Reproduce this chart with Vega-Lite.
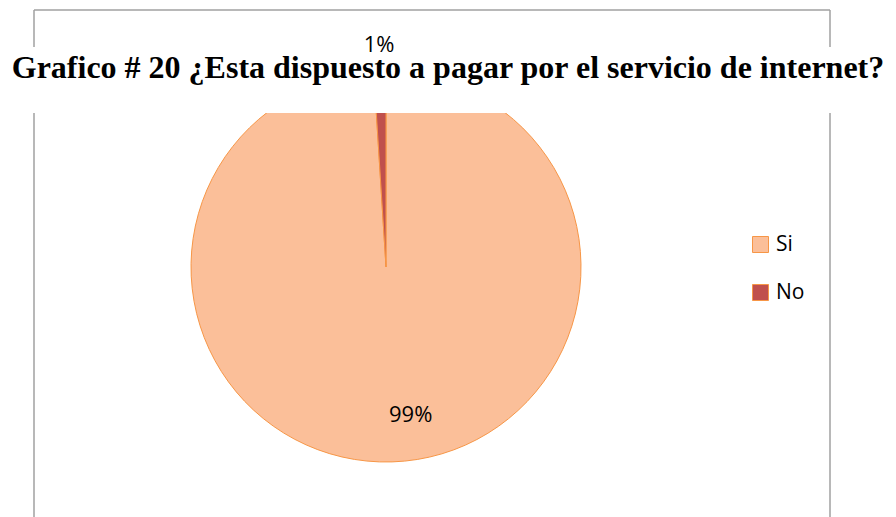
{
  "$schema": "https://vega.github.io/schema/vega-lite/v6.json",
  "autosize": {"type": "none"},
  "padding": {"left": 34, "top": 113, "right": 66, "bottom": 0},
  "width": 796,
  "height": 404,
  "background": "white",
  "config": {"view": {"stroke": null}},
  "title": {
    "text": "Grafico # 20 ¿Esta dispuesto a pagar por el servicio  de internet?",
    "font": "Liberation Serif",
    "fontSize": 32,
    "fontWeight": "bold",
    "color": "black",
    "anchor": "middle",
    "frame": "group",
    "dx": 16,
    "dy": 101,
    "offset": 0,
    "baseline": "alphabetic"
  },
  "data": {"values": [
    {"answer": "Si", "value": 99, "label": "99%"},
    {"answer": "No", "value": 1, "label": "1%"}
  ]},
  "layer": [
    {
      "data": {"values": [{}]},
      "mark": {"type": "rule", "color": "#A0A0A0", "strokeWidth": 1.5},
      "encoding": {"x": {"value": 0}, "y": {"value": 0}, "y2": {"value": "height"}}
    },
    {
      "data": {"values": [{}]},
      "mark": {"type": "rule", "color": "#A0A0A0", "strokeWidth": 1.5},
      "encoding": {"x": {"value": "width"}, "y": {"value": 0}, "y2": {"value": "height"}}
    },
    {
      "data": {"values": [{}]},
      "mark": {"type": "rule", "color": "#A0A0A0", "strokeWidth": 1.5},
      "encoding": {"x": {"value": 0}, "y": {"value": -103}, "y2": {"value": -66}}
    },
    {
      "data": {"values": [{}]},
      "mark": {"type": "rule", "color": "#A0A0A0", "strokeWidth": 1.5},
      "encoding": {"x": {"value": "width"}, "y": {"value": -103}, "y2": {"value": -66}}
    },
    {
      "data": {"values": [{}]},
      "mark": {"type": "rule", "color": "#A0A0A0", "strokeWidth": 1.5},
      "encoding": {"x": {"value": 0}, "x2": {"value": "width"}, "y": {"value": -103}}
    },
    {
      "mark": {"type": "arc", "outerRadius": 195, "x": 352, "y": 154, "clip": true, "stroke": "#F79646", "strokeWidth": 1},
      "encoding": {
        "theta": {"field": "value", "type": "quantitative", "stack": true},
        "order": {"field": "value", "type": "quantitative", "sort": "descending"},
        "color": {
          "field": "answer",
          "type": "nominal",
          "sort": ["Si", "No"],
          "scale": {"domain": ["Si", "No"], "range": ["#FBBF99", "#C0504D"]},
          "legend": {
            "orient": "none",
            "legendX": 716,
            "legendY": 121,
            "title": null,
            "symbolType": "square",
            "symbolSize": 256,
            "symbolStrokeColor": "#F79646",
            "symbolStrokeWidth": 1,
            "symbolOpacity": 1,
            "labelFont": "Open Sans",
            "labelFontSize": 21,
            "labelColor": "black",
            "labelOffset": 5,
            "rowPadding": 26,
            "padding": 0
          }
        }
      }
    },
    {
      "mark": {"type": "text", "x": 352, "y": 154, "dx": 20, "radius": 148, "font": "Open Sans", "fontSize": 22, "color": "black", "baseline": "middle", "align": "center"},
      "encoding": {
        "theta": {"field": "value", "type": "quantitative", "stack": true},
        "order": {"field": "value", "type": "quantitative", "sort": "descending"},
        "text": {"condition": {"test": "datum.answer === 'Si'", "field": "label"}, "value": ""}
      }
    },
    {
      "mark": {"type": "text", "x": 352, "y": 154, "radius": 222, "font": "Open Sans", "fontSize": 22, "color": "black", "baseline": "middle", "align": "center"},
      "encoding": {
        "theta": {"field": "value", "type": "quantitative", "stack": true},
        "order": {"field": "value", "type": "quantitative", "sort": "descending"},
        "text": {"condition": {"test": "datum.answer === 'No'", "field": "label"}, "value": ""}
      }
    }
  ]
}
